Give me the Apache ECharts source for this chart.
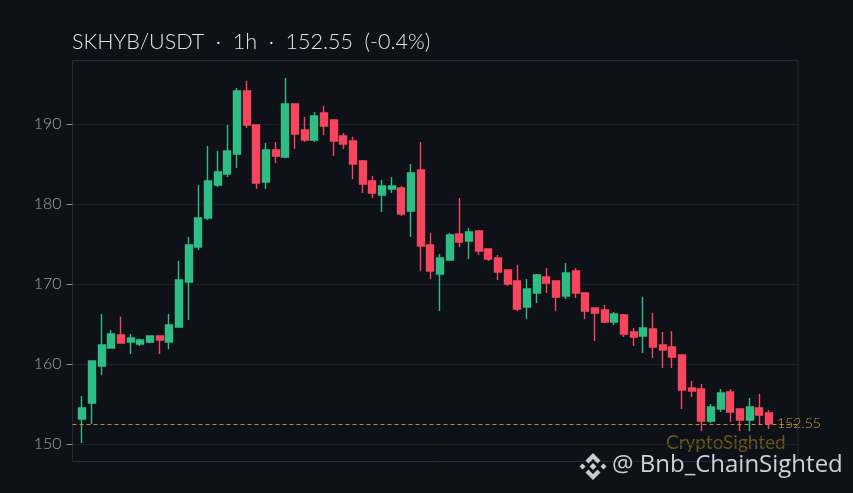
<!DOCTYPE html>
<html><head><meta charset="utf-8">
<style>html,body{margin:0;padding:0;background:#0e1117}#c{width:853px;height:493px}</style>
<script src="https://cdn.jsdelivr.net/npm/echarts@6/dist/echarts.min.js"></script>
</head><body><div id="c"></div>
<script>
const titleText = 'SKHYB/USDT  ·  1h  ·  152.55  (-0.4%)';
const lastPrice = 152.55;
const yTicks = [150,160,170,180,190];
const opens = [153.16,155.16,159.79,162.04,163.66,162.79,162.54,162.79,163.54,162.79,164.66,170.29,174.66,178.29,182.41,183.79,186.29,194.16,189.91,182.79,186.79,185.91,192.54,189.29,188.04,191.41,190.54,188.54,187.91,185.41,182.91,181.16,181.91,182.04,179.16,184.29,174.91,171.29,173.04,176.29,175.41,176.66,174.41,173.29,171.79,170.41,167.16,168.91,170.91,170.41,168.54,171.66,168.91,167.04,166.79,165.29,166.16,164.04,163.54,164.41,162.41,162.16,161.16,157.04,156.91,152.91,154.41,156.54,154.41,153.04,154.54,153.91];
const closes = [154.54,160.41,162.41,163.79,162.66,163.29,163.04,163.54,163.04,164.91,170.54,174.91,178.29,182.91,184.04,186.66,194.16,189.91,182.66,186.79,186.04,192.54,188.79,188.04,191.04,189.79,187.91,187.54,185.04,182.54,181.41,182.29,182.29,178.79,183.91,174.79,171.66,173.29,176.16,175.29,176.54,174.16,173.16,171.54,170.04,166.91,169.41,171.16,170.16,168.41,171.41,168.91,166.66,166.41,165.29,166.29,163.79,163.41,164.54,162.16,161.79,160.91,156.79,156.66,152.91,154.66,156.41,154.04,153.04,154.66,153.66,152.55];
const lows = [150.16,152.54,158.66,161.96,162.66,161.29,162.29,162.63,161.29,161.87,164.6,165.54,174.29,178.04,182.16,183.41,184.54,189.54,181.91,181.91,185.16,185.79,186.91,187.79,187.79,188.66,186.04,186.91,183.16,181.41,180.79,179.04,181.41,178.54,175.91,171.66,170.66,166.66,172.91,174.66,173.16,173.66,172.91,170.54,169.79,166.66,165.66,167.66,168.91,166.66,168.16,168.29,165.66,162.91,165.16,164.91,163.41,162.29,161.41,160.79,159.54,159.54,154.41,155.91,151.66,152.66,154.04,152.79,151.66,151.66,152.41,151.91];
const highs = [156.04,160.41,166.29,164.29,165.96,163.79,163.21,163.54,163.63,166.29,172.91,175.91,182.41,187.29,186.66,189.91,194.54,195.41,189.91,187.66,187.79,195.79,192.54,190.91,191.54,192.29,190.54,188.91,188.41,185.54,183.54,183.04,183.41,182.29,185.04,187.79,176.41,173.79,176.41,180.79,177.04,176.66,174.41,173.66,171.79,172.41,170.66,171.29,172.04,170.41,172.66,172.04,168.91,167.04,167.41,166.54,166.29,164.54,168.41,166.41,164.04,164.16,161.16,157.91,157.54,155.04,156.91,156.91,154.41,155.79,156.29,154.29];

const candles = [['-','-','-','-']].concat(opens.map((o,i)=>[o,closes[i],lows[i],highs[i]]),[['-','-','-','-'],['-','-','-','-'],['-','-','-','-']]);
const cats = candles.map((_,i)=>String(i));

const chart = echarts.init(document.getElementById('c'));
chart.setOption({
  animation:false,
  backgroundColor:'#0e1117',
  title:{text:titleText,left:72,top:31,padding:0,textStyle:{color:'#e2e4e6',fontFamily:'Lato',fontWeight:300,fontSize:21.5}},
  grid:{left:72.5,right:55,top:60.5,bottom:31.5,show:true,borderColor:'#252931',borderWidth:1,backgroundColor:'transparent'},
  xAxis:{type:'category',data:cats,boundaryGap:false,axisLine:{show:false},axisTick:{show:false},axisLabel:{show:false},splitLine:{show:false}},
  yAxis:{type:'value',min:147.85,max:197.97,position:'left',
    axisLine:{show:false},
    axisTick:{show:true,length:6,customValues:yTicks,lineStyle:{color:'#8a8d90',width:1}},
    axisLabel:{color:'#a0a3a6',fontFamily:'Lato',fontWeight:300,fontSize:16,margin:11,customValues:yTicks},
    splitLine:{show:true,lineStyle:{color:'#1b1f26',width:1}}},
  series:[{type:'candlestick',data:candles,barWidth:7.5,
    itemStyle:{color:'#2ebd85',color0:'#f6465d',borderColor:'#2ebd85',borderColor0:'#f6465d',borderWidth:1.4},
    markLine:{silent:true,symbol:'none',animation:false,
      data:[{yAxis:lastPrice}],
      lineStyle:{color:'#b8912a',type:[4,3],width:1},
      label:{show:true,position:'end',distance:-21,formatter:'152.55',color:'#c9a227',fontFamily:'Lato',fontWeight:300,fontSize:14}}
  }],
  graphic:[
    {type:'text',left:666,top:433,silent:true,style:{text:'CryptoSighted',fill:'#6a5518',font:'19px Lato'}},
    {type:'text',left:612,top:453.5,silent:true,style:{text:'@ Bnb_ChainSighted',fill:'#cfd1d4',font:'24px "Open Sans"'}},
    {type:'group',left:579.5,top:453,silent:true,children:[
      {type:'polygon',shape:{points:[[13.5,0],[21,7.5],[18,10.5],[13.5,6],[9,10.5],[6,7.5]]},style:{fill:'#c9cbce'}},
      {type:'polygon',shape:{points:[[13.5,27],[21,19.5],[18,16.5],[13.5,21],[9,16.5],[6,19.5]]},style:{fill:'#c9cbce'}},
      {type:'polygon',shape:{points:[[0,13.5],[3,10.5],[6,13.5],[3,16.5]]},style:{fill:'#c9cbce'}},
      {type:'polygon',shape:{points:[[21,13.5],[24,10.5],[27,13.5],[24,16.5]]},style:{fill:'#c9cbce'}},
      {type:'polygon',shape:{points:[[10,13.5],[13.5,10],[17,13.5],[13.5,17]]},style:{fill:'#c9cbce'}}
    ]}
  ]
});
</script></body></html>
